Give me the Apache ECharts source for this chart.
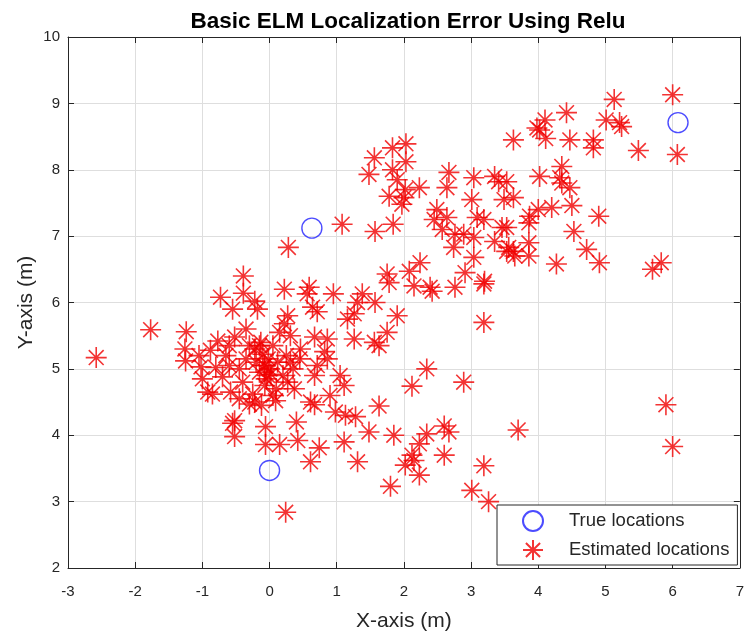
<!DOCTYPE html>
<html>
<head>
<meta charset="utf-8">
<script src="https://cdn.jsdelivr.net/npm/echarts@6.0.0/dist/echarts.min.js"></script>
<style>
  html, body { margin: 0; padding: 0; background: #ffffff; }
  #chart { width: 747px; height: 637px; }
</style>
</head>
<body>
<div id="chart"></div>
<script>
// True anchor positions (m)
const trueX = [0.0, 0.63, 6.08];
const trueY = [3.47, 7.12, 8.71];

// Estimated positions (m)
const estX = [
  -2.58, -1.77, -1.24, -1.26, -1.25, -1.02, -0.92, -0.77, -0.52, -0.73, -0.39, -0.39, -0.58, -0.52, -0.55, -0.52, -0.30,
  -1.05, -0.88, -0.80, -0.70, -0.65, -0.60, -0.45, -0.40, -0.35, -0.30, -0.25, -0.20, -0.15, -0.10, -0.05, 0.00, 0.05,
  0.10, 0.15, 0.20, 0.25, -0.55, -0.45, -0.12, 0.05, -0.02, -0.08, 0.02, -0.60, -1.00, -0.85, -0.35, -0.15, 0.12, 0.35,
  0.45, -0.22, -0.18,
  0.22, 0.59, 0.56, 0.95, 0.71, 0.64, 0.27, 0.22, 1.38, 1.31, 1.57, 1.26, 1.16, 1.78, 1.75, 1.56, 1.63, 1.26, 0.67,
  0.86, 0.82, 0.86, 0.46, 0.31, 0.31, -0.13, -0.22, -0.07, -0.03, -0.07, 0.27, 0.37, 0.67, 0.71, 1.05, 1.11, 0.90, 0.61,
  0.24, 0.61, 0.74, 0.42, 0.15, -0.06, -0.06, 0.40, 1.11, 1.31, 1.48, 1.80, 1.63, 0.67, 0.98, 1.13, 1.28, 1.85, 0.09,
  -0.22,
  2.15, 2.42, 2.39, 2.76, 3.19, 3.19, 1.90, 2.34, 2.12, 2.89, 2.34, 2.60, 2.67, 3.70, 3.19, 3.01, 3.26, 2.60, 2.23,
  2.12, 2.02, 2.15, 2.23, 5.90, 6.00,
  1.83, 2.03, 2.03, 1.83, 1.90, 2.02, 2.23, 1.78, 2.00, 1.97, 1.84, 1.57, 2.67, 2.64, 3.04, 3.35, 3.41, 3.01, 3.49,
  3.63, 2.49, 2.45, 2.64, 3.09, 3.19, 3.46, 2.57, 2.76, 3.04, 2.89, 3.35, 3.56, 3.63, 2.74, 3.04, 2.24, 2.08, 2.91,
  3.20, 1.08, 0.28, 1.56, 1.48, 1.75,
  5.13, 6.00, 6.07, 5.49, 5.01, 5.21, 5.24, 4.42, 4.10, 3.98, 4.02, 4.11, 3.63, 4.47, 4.82, 4.82, 4.35, 4.02, 4.32,
  4.35, 4.47, 3.53, 4.00, 4.20, 4.50, 4.90, 3.87, 3.86, 4.53, 3.86, 3.53, 3.65, 3.53, 3.86, 4.72, 4.27, 4.91, 5.70,
  5.83
];
const estY = [
  5.17, 5.59, 5.56, 5.30, 5.12, 5.03, 4.65, 5.42, 5.48, 6.08, 6.40, 6.14, 4.65, 4.22, 4.18, 3.98, 4.47,
  5.20, 5.28, 5.02, 4.88, 5.20, 5.35, 5.00, 4.80, 5.15, 5.35, 4.62, 5.10, 4.95, 5.22, 4.85, 5.00, 5.35,
  4.70, 5.55, 4.90, 5.20, 5.90, 4.55, 4.45, 4.60, 5.15, 5.05, 4.92, 5.05, 4.85, 4.62, 5.60, 5.35, 5.10, 5.00,
  5.15, 6.02, 5.90,
  6.20, 6.23, 6.13, 6.13, 5.86, 5.93, 5.80, 5.68, 6.13, 6.00, 6.00, 5.83, 5.75, 6.30, 5.55, 5.40, 5.35, 5.45, 5.48,
  5.45, 5.26, 5.15, 5.30, 5.50, 5.10, 5.40, 5.30, 5.05, 4.90, 4.75, 4.80, 4.70, 4.90, 5.05, 4.90, 4.75, 4.60, 4.50,
  2.84, 3.60, 3.81, 3.92, 3.86, 3.86, 4.13, 4.20, 3.90, 3.60, 4.05, 3.23, 4.44, 4.46, 4.35, 4.30, 4.28, 4.00, 4.52,
  4.50,
  6.25, 6.17, 6.23, 6.23, 6.28, 5.70, 5.80, 5.00, 4.74, 4.80, 4.02, 4.14, 4.05, 4.08, 3.54, 3.17, 3.00, 3.70, 3.40,
  3.70, 3.55, 3.62, 3.87, 4.46, 3.83,
  8.33, 8.39, 8.12, 8.00, 7.85, 7.70, 7.73, 7.60, 7.58, 7.48, 7.18, 7.07, 7.96, 7.73, 7.88, 7.90, 7.82, 7.55, 7.55,
  7.58, 7.40, 7.25, 7.28, 7.28, 7.25, 7.13, 7.10, 7.03, 6.98, 7.03, 6.92, 6.83, 6.77, 6.83, 6.68, 6.60, 6.47, 6.45,
  6.32, 7.18, 6.83, 8.18, 7.93, 6.43,
  9.06, 9.13, 8.23, 8.29, 8.75, 8.71, 8.65, 8.86, 8.75, 8.63, 8.60, 8.47, 8.45, 8.45, 8.45, 8.33, 8.05, 7.90, 7.88,
  7.80, 7.73, 7.82, 7.40, 7.43, 7.46, 7.30, 7.30, 7.20, 7.07, 6.90, 7.13, 6.70, 6.77, 6.70, 6.80, 6.58, 6.60, 6.50,
  6.60
];

const starPath = 'path://M0,10L20,10M10,0L10,20M2.93,2.93L17.07,17.07M17.07,2.93L2.93,17.07';
const axisColor = '#262626';
const labelFont = "'Liberation Sans', Arial, sans-serif";

const trueData = trueX.map((x, i) => [x, trueY[i]]);
const estData = estX.map((x, i) => [x, estY[i]]);

const option = {
  backgroundColor: '#ffffff',
  animation: false,
  title: {
    text: 'Basic ELM Localization Error Using Relu',
    left: 403,
    textAlign: 'center',
    top: 5,
    textStyle: { fontSize: 22.5, fontWeight: 'bold', color: '#000000', fontFamily: labelFont }
  },
  legend: {
    data: ['True locations', 'Estimated locations'],
    orient: 'vertical',
    left: 497,
    top: 505,
    padding: [5, 8, 4, 25],
    itemGap: 7,
    itemWidth: 62,
    itemHeight: 20,
    backgroundColor: '#ffffff',
    borderColor: axisColor,
    borderWidth: 1,
    borderRadius: 0,
    textStyle: { fontSize: 18.5, color: axisColor, fontFamily: labelFont }
  },
  grid: { left: 68, right: 6, top: 37, bottom: 69, containLabel: false },
  xAxis: [
    {
      type: 'value', min: -3, max: 7, interval: 1,
      name: 'X-axis (m)', nameLocation: 'middle', nameGap: 43,
      nameTextStyle: { fontSize: 21, color: axisColor, fontFamily: labelFont },
      axisLine: { onZero: false, lineStyle: { color: axisColor, width: 1 } },
      axisTick: { inside: true, length: 6, lineStyle: { color: axisColor } },
      axisLabel: { fontSize: 15, color: axisColor, margin: 16, fontFamily: labelFont },
      splitLine: { lineStyle: { color: '#dedede', width: 1 } }
    },
    {
      type: 'value', position: 'top', min: -3, max: 7, interval: 1,
      axisLine: { onZero: false, lineStyle: { color: axisColor, width: 1 } },
      axisTick: { inside: true, length: 6, lineStyle: { color: axisColor } },
      axisLabel: { show: false },
      splitLine: { show: false }
    }
  ],
  yAxis: [
    {
      type: 'value', min: 2, max: 10, interval: 1,
      name: 'Y-axis (m)', nameLocation: 'middle', nameGap: 31, nameMoveOverlap: false,
      nameTextStyle: { fontSize: 21, color: axisColor, fontFamily: labelFont },
      axisLine: { show: true, onZero: false, lineStyle: { color: axisColor, width: 1 } },
      axisTick: { show: true, inside: true, length: 6, lineStyle: { color: axisColor } },
      axisLabel: { fontSize: 15, color: axisColor, margin: 8, fontFamily: labelFont },
      splitLine: { lineStyle: { color: '#dedede', width: 1 } }
    },
    {
      type: 'value', position: 'right', min: 2, max: 10, interval: 1,
      axisLine: { show: true, onZero: false, lineStyle: { color: axisColor, width: 1 } },
      axisTick: { show: true, inside: true, length: 6, lineStyle: { color: axisColor } },
      axisLabel: { show: false },
      splitLine: { show: false }
    }
  ],
  series: [
    {
      name: 'True locations',
      type: 'scatter',
      symbol: 'circle',
      symbolSize: 20,
      itemStyle: { color: 'rgba(0,0,0,0)', borderColor: '#1f1fff', borderWidth: 1.4 },
      data: trueData,
      z: 3
    },
    {
      name: 'Estimated locations',
      type: 'scatter',
      symbol: starPath,
      symbolSize: 21,
      itemStyle: { color: 'rgba(0,0,0,0)', borderColor: '#f00000', borderWidth: 1.6 },
      data: estData,
      z: 2
    }
  ]
};

const chart = echarts.init(document.getElementById('chart'));
chart.setOption(option);
</script>
</body>
</html>
